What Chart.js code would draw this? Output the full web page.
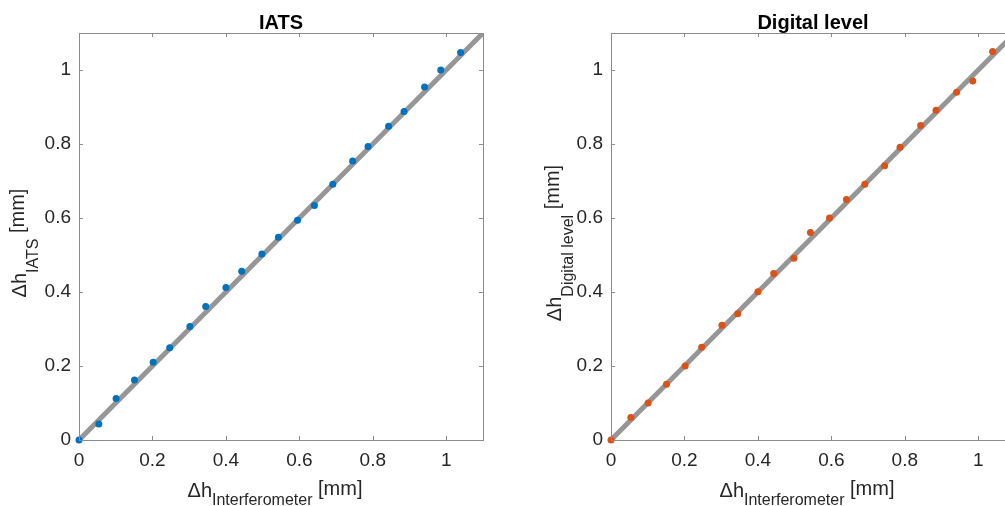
<!DOCTYPE html>
<html>
<head>
<meta charset="utf-8">
<script src="https://cdn.jsdelivr.net/npm/chart.js@4.4.1/dist/chart.umd.min.js"></script>
<style>
  html, body { margin: 0; padding: 0; background: #fff; overflow: hidden; width: 1005px; height: 506px; }
  canvas { position: absolute; top: 0; }
  #left-chart { left: 0; }
  #right-chart { left: 505px; }
</style>
</head>
<body>
<canvas id="left-chart" width="505" height="506"></canvas>
<canvas id="right-chart" width="530" height="506"></canvas>
<script>
// values
const dhInterferometer = [0, 0.054, 0.101, 0.151, 0.202, 0.247, 0.302, 0.345, 0.400, 0.443, 0.498, 0.543, 0.595, 0.641, 0.691, 0.745, 0.787, 0.843, 0.885, 0.941, 0.985, 1.039];
const dhIats = [0, 0.043, 0.112, 0.162, 0.210, 0.249, 0.307, 0.361, 0.412, 0.456, 0.503, 0.548, 0.594, 0.634, 0.691, 0.754, 0.793, 0.848, 0.888, 0.954, 1.000, 1.047];
const dhDigital = [0, 0.061, 0.100, 0.151, 0.200, 0.251, 0.310, 0.341, 0.401, 0.450, 0.491, 0.561, 0.600, 0.650, 0.691, 0.741, 0.791, 0.850, 0.891, 0.940, 0.970, 1.050];
const refLine = [0, 1.1];
const tickValues = [0, 0.2, 0.4, 0.6, 0.8, 1];
const axisMin = 0, axisMax = 1.1;

const FONT = '"Liberation Sans", Arial, Helvetica, sans-serif';

// box, inward ticks, title and axis labels with subscripts
const matlabAxes = {
    id: 'matlabAxes',
    afterDatasetsDraw(chart, args, opts) {
        const ctx = chart.ctx;
        const a = chart.chartArea;
        const xs = chart.scales.x, ys = chart.scales.y;
        ctx.save();
        ctx.strokeStyle = '#8c8c8c';
        ctx.lineWidth = 1;
        ctx.strokeRect(Math.round(a.left) + 0.5, Math.round(a.top) + 0.5, Math.round(a.right - a.left), Math.round(a.bottom - a.top));
        const tl = 4;
        ctx.beginPath();
        tickValues.forEach(v => {
            const px = Math.round(xs.getPixelForValue(v)) + 0.5;
            ctx.moveTo(px, a.bottom); ctx.lineTo(px, a.bottom - tl);
            ctx.moveTo(px, a.top); ctx.lineTo(px, a.top + tl);
            const py = Math.round(ys.getPixelForValue(v)) + 0.5;
            ctx.moveTo(a.left, py); ctx.lineTo(a.left + tl, py);
            ctx.moveTo(a.right, py); ctx.lineTo(a.right - tl, py);
        });
        ctx.stroke();

        // title
        const cx = (a.left + a.right) / 2;
        ctx.fillStyle = '#000';
        ctx.font = 'bold 20px ' + FONT;
        ctx.textAlign = 'center';
        ctx.textBaseline = 'alphabetic';
        ctx.fillText(opts.title, cx, 29);

        // composite label: main, subscript, unit
        function drawLabel(sub, subShift) {
            const big = '20px ' + FONT, small = '16px ' + FONT;
            ctx.font = big; const w1 = ctx.measureText('\u0394h').width;
            ctx.font = small; const w2 = ctx.measureText(sub).width;
            ctx.font = big; const w3 = ctx.measureText(' [mm]').width;
            let x = -(w1 + w2 + w3) / 2;
            ctx.textAlign = 'left';
            ctx.fillStyle = '#262626';
            ctx.font = big; ctx.fillText('\u0394h', x, 0); x += w1;
            ctx.font = small; ctx.fillText(sub, x, subShift); x += w2;
            ctx.font = big; ctx.fillText(' [mm]', x, -2);
        }
        ctx.save();
        ctx.translate(cx - 6, 497);
        drawLabel('Interferometer', 8);
        ctx.restore();

        ctx.save();
        ctx.translate(a.left - opts.yLabelGap, 243);
        ctx.rotate(-Math.PI / 2);
        drawLabel(opts.ySub, 12);
        ctx.restore();
        ctx.restore();
    }
};

function makeChart(canvas, ySeries, color, title, ySub, yWidth, padRight, yLabelGap) {
    return new Chart(canvas.getContext('2d'), {
        type: 'scatter',
        data: {
            datasets: [
                {
                    type: 'line',
                    order: 2,
                    data: refLine.map(v => ({ x: v, y: v })),
                    borderColor: 'rgb(150,150,150)',
                    borderWidth: 5,
                    pointRadius: 0,
                    fill: false
                },
                {
                    order: 1,
                    data: dhInterferometer.map((v, i) => ({ x: v, y: ySeries[i] })),
                    backgroundColor: color,
                    borderColor: color,
                    pointRadius: 3.5,
                    pointBorderWidth: 0,
                    clip: false
                }
            ]
        },
        options: {
            responsive: false,
            animation: false,
            devicePixelRatio: 1,
            layout: { padding: { top: 33, right: padRight, left: 0, bottom: 0 } },
            plugins: {
                legend: { display: false },
                tooltip: { enabled: false },
                matlabAxes: { title: title, ySub: ySub, yLabelGap: yLabelGap }
            },
            scales: {
                x: {
                    type: 'linear',
                    min: axisMin, max: axisMax,
                    grid: { display: false, drawTicks: false },
                    border: { display: false },
                    afterBuildTicks: s => { s.ticks = tickValues.map(v => ({ value: v })); },
                    afterFit: s => { s.height = 66; },
                    ticks: {
                        padding: 9,
                        color: '#262626',
                        font: { family: FONT, size: 19 },
                        maxRotation: 0,
                        autoSkip: false,
                        callback: v => String(+v.toFixed(2))
                    }
                },
                y: {
                    type: 'linear',
                    min: axisMin, max: axisMax,
                    grid: { display: false, drawTicks: false },
                    border: { display: false },
                    afterBuildTicks: s => { s.ticks = tickValues.map(v => ({ value: v })); },
                    afterFit: s => { s.width = yWidth; },
                    ticks: {
                        padding: 8,
                        color: '#262626',
                        font: { family: FONT, size: 19 },
                        autoSkip: false,
                        callback: v => String(+v.toFixed(2))
                    }
                }
            }
        },
        plugins: [matlabAxes]
    });
}

makeChart(document.querySelector('#left-chart'), dhIats, '#0072BD', 'IATS', 'IATS', 79, 22, 53);
makeChart(document.querySelector('#right-chart'), dhDigital, '#D95319', 'Digital level', 'Digital level', 106, 20, 50);
</script>
</body>
</html>
